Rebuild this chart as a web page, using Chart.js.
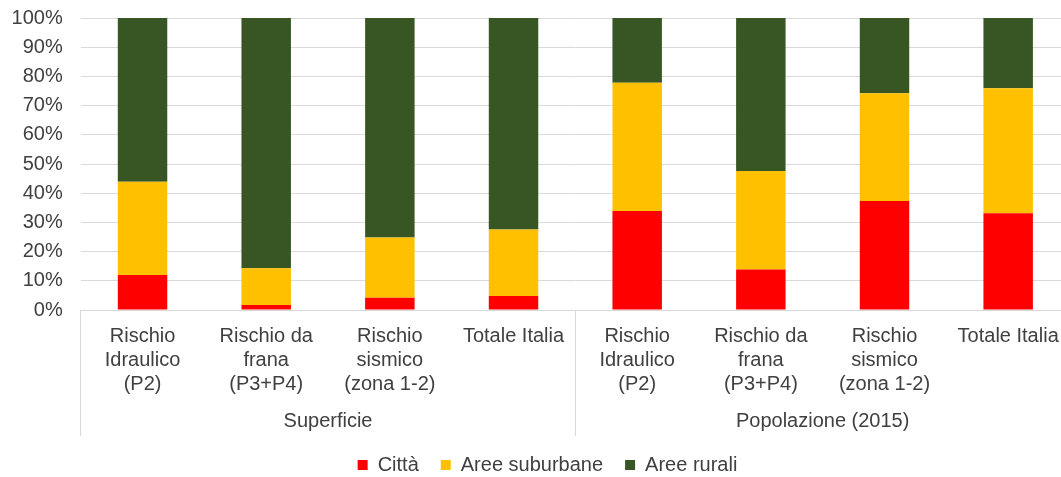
<!DOCTYPE html>
<html>
<head>
<meta charset="utf-8">
<script src="https://cdn.jsdelivr.net/npm/chart.js@4.4.1/dist/chart.umd.min.js"></script>
<style>
  html, body { margin: 0; padding: 0; background: #ffffff; overflow: hidden; width: 1061px; height: 477px; }
  canvas { display: block; }
</style>
</head>
<body>
<canvas id="c" width="1070" height="485"></canvas>
<script>
// ---- Data ----
const categories = [
  ['Rischio', 'Idraulico', '(P2)'],
  ['Rischio da', 'frana', '(P3+P4)'],
  ['Rischio', 'sismico', '(zona 1-2)'],
  'Totale Italia',
  ['Rischio', 'Idraulico', '(P2)'],
  ['Rischio da', 'frana', '(P3+P4)'],
  ['Rischio', 'sismico', '(zona 1-2)'],
  'Totale Italia'
];
const groups = ['Superficie', 'Popolazione (2015)'];
const seriesNames = ['Città', 'Aree suburbane', 'Aree rurali'];
const citta     = [12.0, 1.7, 4.2, 4.8, 33.9, 13.9, 37.3, 33.1];
const suburbane = [31.9, 12.6, 20.6, 22.8, 43.9, 33.7, 36.9, 42.8];
const rurali    = [56.1, 85.7, 75.2, 72.4, 22.2, 52.4, 25.8, 24.1];
const yMin = 0, yMax = 100, yStep = 10;

// ---- Style ----
const colors = ['#FF0000', '#FFC000', '#375623'];
const textColor = '#404040';
const gridColor = '#d9d9d9';
const groupBoundaries = [0, 4, 8];

Chart.defaults.font.family = "'Liberation Sans', Arial, sans-serif";
Chart.defaults.color = textColor;

// shift the legend block slightly right, as in the original layout
const legendShift = {
  id: 'legendShift',
  afterLayout(chart) {
    const l = chart.legend;
    if (l) { l.left += 12.5; l.right += 12.5; }
  }
};

new Chart(document.getElementById('c'), {
  type: 'bar',
  data: {
    labels: categories,
    datasets: [
      { label: seriesNames[0], data: citta, backgroundColor: colors[0] },
      { label: seriesNames[1], data: suburbane, backgroundColor: colors[1] },
      { label: seriesNames[2], data: rurali, backgroundColor: colors[2] }
    ]
  },
  plugins: [legendShift],
  options: {
    responsive: false,
    animation: false,
    devicePixelRatio: 1,
    datasets: { bar: { categoryPercentage: 0.4, barPercentage: 1.0, borderWidth: 0 } },
    layout: { padding: { left: 0, top: 18, right: 0, bottom: 0 } },
    plugins: {
      tooltip: { enabled: false },
      legend: {
        position: 'bottom',
        labels: {
          boxWidth: 10,
          boxHeight: 10,
          padding: 22,
          color: textColor,
          font: { size: 20 }
        }
      }
    },
    scales: {
      x: {
        stacked: true,
        weight: 0,
        offset: true,
        grid: {
          offset: true,
          drawOnChartArea: false,
          drawTicks: true,
          tickLength: 126,
          lineWidth: 1,
          color: (ctx) => groupBoundaries.includes(ctx.index) ? gridColor : 'rgba(0,0,0,0)'
        },
        border: { display: true, color: gridColor, width: 1 },
        ticks: {
          autoSkip: false,
          maxRotation: 0,
          minRotation: 0,
          padding: -112,
          color: textColor,
          font: { size: 20, lineHeight: 1.2 }
        },
        afterFit: (scale) => { scale.height = 86; }
      },
      x2: {
        type: 'category',
        labels: groups,
        position: 'bottom',
        weight: 1,
        offset: true,
        grid: { display: false, drawTicks: false },
        border: { display: false },
        ticks: {
          padding: 13,
          color: textColor,
          font: { size: 20, lineHeight: 1.2 }
        },
        afterFit: (scale) => { scale.height = 37; }
      },
      y: {
        stacked: true,
        min: yMin,
        max: yMax,
        grid: { color: gridColor, lineWidth: 1, drawTicks: true, tickLength: 18, tickColor: 'rgba(0,0,0,0)' },
        border: { display: false },
        ticks: {
          stepSize: yStep,
          padding: 0,
          color: textColor,
          font: { size: 20 },
          callback: (v) => v + '%'
        },
        afterFit: (scale) => { scale.width = 80.7; }
      }
    }
  }
});
</script>
</body>
</html>
